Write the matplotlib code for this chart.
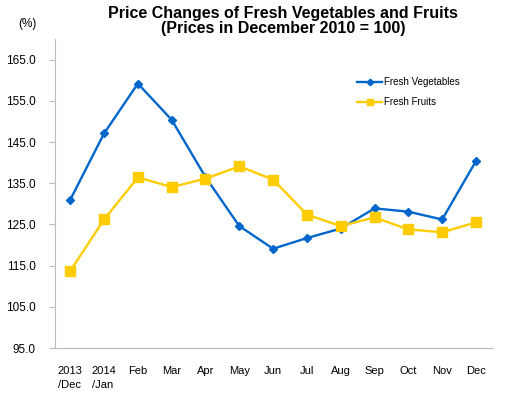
import matplotlib
matplotlib.use('Agg')
import matplotlib.pyplot as plt

plt.rcParams['font.family'] = ['Liberation Sans', 'DejaVu Sans']

months = ['2013\n/Dec', '2014\n/Jan', 'Feb', 'Mar', 'Apr', 'May', 'Jun',
          'Jul', 'Aug', 'Sep', 'Oct', 'Nov', 'Dec']
vegetables = [131.0, 147.1, 159.2, 150.4, 136.5, 124.6, 119.1,
              121.7, 124.0, 128.9, 128.1, 126.2, 140.4]
fruits = [113.7, 126.2, 136.4, 134.1, 136.1, 139.1, 135.9,
          127.4, 124.6, 126.7, 123.8, 123.1, 125.5]
yticks = [95, 105, 115, 125, 135, 145, 155, 165]

fig = plt.figure(figsize=(5.05, 3.93), dpi=100)
ax = fig.add_axes([0.109, 0.1145, 0.867, 0.786])

x = range(len(months))
ax.plot(x, vegetables, color='#0066CC', lw=1.7, marker='D', ms=4.5,
        label='Fresh Vegetables')
ax.plot(x, fruits, color='#FFCC00', lw=1.7, marker='s', ms=6.5,
        label='Fresh Fruits')

ax.set_xlim(-0.45, 12.5)
ax.set_ylim(95, 170)
ax.set_yticks(yticks)
ax.set_yticklabels(['%.1f' % v for v in yticks], fontsize=8.5)
ax.set_xticks(list(x))
ax.set_xticklabels(months, fontsize=8, ha='center', va='top',
                   multialignment='left', linespacing=1.45)
ax.tick_params(axis='x', length=0, pad=13)
ax.tick_params(axis='y', length=4, color='#BBBBBB', pad=10)

for s in ['top', 'right']:
    ax.spines[s].set_visible(False)
for s in ['left', 'bottom']:
    ax.spines[s].set_color('#BBBBBB')

leg = ax.legend(loc='upper left', bbox_to_anchor=(0.67, 0.905), frameon=False,
                fontsize=7, handlelength=2.6, labelspacing=1.05,
                markerscale=0.75, handletextpad=0.2)

fig.text(0.56, 0.985, 'Price Changes of Fresh Vegetables and Fruits\n(Prices in December 2010 = 100)',
         ha='center', va='top', fontsize=11.5, fontweight='bold', linespacing=1.0)
fig.text(0.055, 0.94, '(%)', ha='center', va='center', fontsize=8.5)

fig.savefig('out.png', dpi=100)
